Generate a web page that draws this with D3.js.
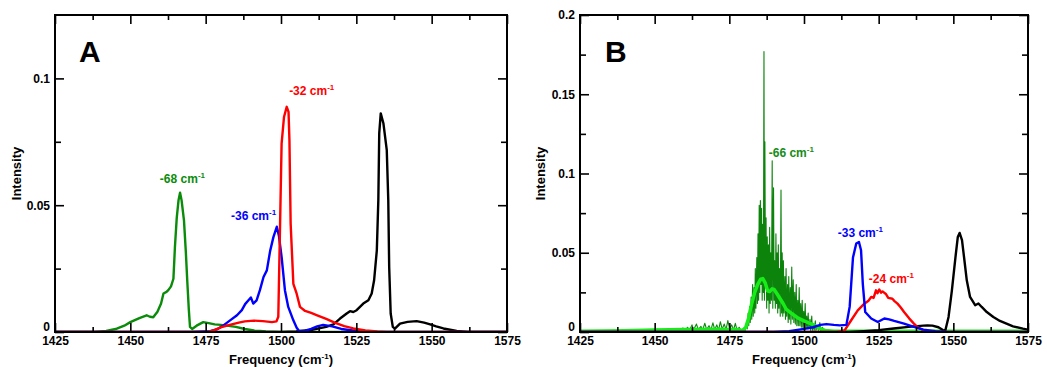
<!DOCTYPE html>
<html>
<head>
  <meta charset="utf-8">
  <title>Spectra</title>
  <style>
    body { margin: 0; background: #fff; }
    svg { display: block; font-family: "Liberation Sans", Arial, sans-serif; font-weight: bold; }
    .tick text { font-family: "Liberation Sans", Arial, sans-serif; font-size: 12px; font-weight: bold; fill: #000; }
    .tick line { stroke: #000; stroke-width: 1.6; }
    .domain { display: none; }
    .curve { fill: none; stroke-linejoin: round; }
  </style>
</head>
<body>
  <svg></svg>
  <script src="https://cdn.jsdelivr.net/npm/d3@7"></script>
  <script>
    // ---- axis ticks ----
    var freqTicks = [1425, 1450, 1475, 1500, 1525, 1550, 1575];
    var freqTickLabels = ["1425", "1450", "1475", "1500", "1525", "1550", "1575"];
    var freqMinor = [1437.5, 1462.5, 1487.5, 1512.5, 1537.5, 1562.5];
    var intTicksA = [0, 0.05, 0.1];
    var intTickLabelsA = ["0", "0.05", "0.1"];
    var intMinorA = [0.025, 0.075];
    var intTicksB = [0, 0.05, 0.1, 0.15, 0.2];
    var intTickLabelsB = ["0", "0.05", "0.1", "0.15", "0.2"];
    var intMinorB = [0.025, 0.075, 0.125, 0.175];

    // ---- panel A spectra [frequency, intensity] ----
    var greenA = [[1425, 0], [1438, 0], [1442, 0.0004], [1445.5, 0.0013], [1448, 0.0025], [1450, 0.0039], [1453, 0.0055],
      [1455.4, 0.0066], [1456.5, 0.006], [1457.6, 0.0058], [1459, 0.008], [1460.2, 0.0112], [1461, 0.0152], [1462, 0.0158],
      [1462.6, 0.0165], [1463.5, 0.018], [1464.3, 0.021], [1464.8, 0.0335], [1465.4, 0.045], [1466, 0.052], [1466.5, 0.0549],
      [1467, 0.052], [1467.8, 0.044], [1468.4, 0.032], [1468.9, 0.02], [1469.4, 0.009], [1469.8, 0.002], [1470.5, 0.0012],
      [1472, 0.0025], [1474.2, 0.0039], [1476, 0.0035], [1478, 0.003], [1480, 0.0028], [1482, 0.0025], [1485, 0.002],
      [1488, 0.0012], [1491, 0.0006], [1495, 0.0002], [1500, 0], [1575, 0]];
    var blueA = [[1425, 0], [1470, 0], [1476.5, 0.0003], [1478.7, 0.001], [1480.9, 0.0026], [1483.1, 0.0046],
      [1485.4, 0.0066], [1487, 0.0086], [1488.1, 0.011], [1489.2, 0.0125], [1490, 0.0136], [1490.8, 0.0112],
      [1491.9, 0.0125], [1493, 0.0165], [1494.2, 0.0217], [1495.3, 0.0243], [1496.4, 0.032], [1497.5, 0.0375],
      [1498.6, 0.0415], [1499.3, 0.038], [1500.2, 0.0296], [1501.3, 0.0165], [1502.4, 0.0099], [1504.1, 0.0046],
      [1505.2, 0.0017], [1506, 0.0004], [1508, 0.0005], [1510, 0.0012], [1512, 0.0022], [1514, 0.0028], [1517, 0.0022],
      [1520, 0.0012], [1525, 0.0004], [1530, 0], [1575, 0]];
    var redA = [[1425, 0], [1476, 0], [1478, 0.0008], [1480, 0.0018], [1483, 0.0028], [1486, 0.0037], [1488, 0.0042],
      [1491, 0.0045], [1494, 0.0043], [1497, 0.0039], [1498.5, 0.0042], [1499.1, 0.006], [1499.7, 0.0428],
      [1500.2, 0.0743], [1501, 0.0848], [1501.9, 0.0888], [1502.5, 0.0868], [1502.8, 0.0757], [1503.2, 0.0428],
      [1504.1, 0.019], [1505.2, 0.0151], [1506.3, 0.0099], [1508, 0.0083], [1510, 0.0075], [1512, 0.0066],
      [1515, 0.0052], [1518, 0.0036], [1521, 0.0023], [1524, 0.0014], [1528, 0.0006], [1532, 0.0002], [1535, 0], [1575, 0]];
    var blackA = [[1425, 0], [1500, 0], [1505, 0.0002], [1510, 0.0008], [1513, 0.0015], [1515, 0.002], [1517.4, 0.003],
      [1519.6, 0.0053], [1521.8, 0.0073], [1522.9, 0.0082], [1524, 0.0079], [1525.1, 0.0086], [1527.3, 0.0112],
      [1529, 0.0125], [1530.1, 0.0152], [1530.9, 0.0204], [1531.8, 0.0322], [1532.3, 0.052], [1532.6, 0.0783],
      [1533.1, 0.0862], [1534, 0.0822], [1535.1, 0.0717], [1535.6, 0.052], [1535.9, 0.0257], [1536.4, 0.0073],
      [1537.1, 0.002], [1537.8, 0.0013], [1539.5, 0.0033], [1542, 0.004], [1545, 0.0043], [1547.5, 0.0037],
      [1549.5, 0.003], [1551.5, 0.0022], [1553.9, 0.0014], [1558.3, 0.0004], [1562, 0], [1575, 0]];

    // ---- panel B spectra [frequency, intensity] ----
    var greenRawB = [[1425, 0], [1432, 0.0003], [1436, 0.0008], [1437, 0.0002], [1440, 0.001], [1441, 0.0003],
      [1445, 0.0015], [1446, 0.0004], [1448, 0.0012], [1449, 0.0003], [1451, 0.0018], [1452, 0.0005], [1454, 0.0014],
      [1455, 0.0004], [1457, 0.002], [1458, 0.0006], [1459.5, 0.0025], [1460.2, 0.0008], [1461, 0.003], [1461.6, 0.001],
      [1462.5, 0.0045], [1463, 0.0012], [1464, 0.005], [1464.6, 0.0015], [1465.5, 0.0035], [1466, 0.001], [1466.8, 0.0055],
      [1467.4, 0.0015], [1468.2, 0.004], [1468.8, 0.0012], [1469.5, 0.0058], [1470.1, 0.0015], [1470.8, 0.0045],
      [1471.4, 0.0012], [1472, 0.0065], [1472.6, 0.0018], [1473.3, 0.005], [1473.9, 0.0015], [1474.5, 0.0072],
      [1475.1, 0.002], [1475.8, 0.0045], [1476.4, 0.0012], [1477, 0.0055], [1477.6, 0.001], [1478.3, 0.003],
      [1479, 0.0005], [1479.8, 0.002], [1480.3, 0.001],
      [1480.8, 0.006], [1481.0, 0.002], [1481.3, 0.012], [1481.5, 0.004], [1481.8, 0.016], [1482.0, 0.006],
      [1482.3, 0.022], [1482.5, 0.008], [1482.8, 0.03], [1483.0, 0.01], [1483.3, 0.028], [1483.5, 0.012],
      [1483.7, 0.04], [1483.9, 0.015], [1484.2, 0.047], [1484.4, 0.018], [1484.6, 0.062], [1484.8, 0.02],
      [1485.0, 0.08], [1485.2, 0.025], [1485.4, 0.083], [1485.6, 0.03], [1485.8, 0.078], [1486.0, 0.02],
      [1486.2, 0.068], [1486.4, 0.025], [1486.6, 0.177], [1486.75, 0.02], [1486.9, 0.12], [1487.1, 0.03],
      [1487.3, 0.072], [1487.5, 0.015], [1487.7, 0.06], [1487.9, 0.02], [1488.1, 0.055], [1488.3, 0.012],
      [1488.5, 0.066], [1488.7, 0.018], [1488.9, 0.05], [1489.1, 0.02], [1489.35, 0.108], [1489.55, 0.015],
      [1489.8, 0.091], [1490.0, 0.02], [1490.2, 0.045], [1490.4, 0.015], [1490.6, 0.062], [1490.8, 0.018],
      [1491.0, 0.05], [1491.2, 0.012], [1491.4, 0.055], [1491.6, 0.015], [1491.85, 0.04], [1492.05, 0.01],
      [1492.3, 0.0895], [1492.5, 0.012], [1492.7, 0.05], [1492.9, 0.01], [1493.1, 0.045], [1493.3, 0.012],
      [1493.6, 0.035], [1493.8, 0.008], [1494.0, 0.04], [1494.2, 0.01], [1494.5, 0.03], [1494.7, 0.006],
      [1494.9, 0.035], [1495.1, 0.008], [1495.4, 0.028], [1495.6, 0.005], [1495.9, 0.041], [1496.1, 0.008],
      [1496.4, 0.033], [1496.6, 0.006], [1496.9, 0.025], [1497.1, 0.005], [1497.4, 0.03], [1497.6, 0.004],
      [1497.9, 0.02], [1498.1, 0.004], [1498.4, 0.028], [1498.6, 0.004], [1498.9, 0.018], [1499.1, 0.003],
      [1499.4, 0.02], [1499.6, 0.003], [1499.9, 0.013], [1500.1, 0.002], [1500.4, 0.018], [1500.6, 0.002],
      [1500.9, 0.01], [1501.1, 0.002], [1501.4, 0.012], [1501.6, 0.002], [1502.0, 0.008], [1502.2, 0.001],
      [1502.6, 0.01], [1502.8, 0.001], [1503.2, 0.005], [1503.4, 0.001], [1503.8, 0.007], [1504.0, 0.001],
      [1504.5, 0.004], [1504.8, 0.001], [1505.3, 0.006], [1505.6, 0.0005], [1506.2, 0.003], [1506.6, 0], [1575, 0]];
    var greenSmoothB = [[1425, 0.0004], [1440, 0.0008], [1450, 0.0012], [1460, 0.0015], [1470, 0.0018], [1478, 0.0015],
      [1479.5, 0.001], [1480.5, 0.003], [1481.5, 0.009], [1482.5, 0.018], [1483.5, 0.025], [1484.5, 0.03],
      [1485.5, 0.0333], [1486.2, 0.0337], [1487, 0.031], [1487.8, 0.026], [1488.5, 0.0255], [1489.3, 0.0272],
      [1490, 0.0268], [1491, 0.024], [1492, 0.021], [1493, 0.018], [1494, 0.0145], [1496, 0.0115], [1498, 0.0088],
      [1500, 0.007], [1502.6, 0.005], [1505, 0.0025], [1507, 0.001], [1510, 0.0005], [1575, 0.0005]];
    var blueB = [[1425, 0], [1490, 0], [1495, 0.0005], [1500, 0.002], [1503, 0.003], [1505.5, 0.0045], [1507.5, 0.005],
      [1510, 0.0045], [1512, 0.0042], [1514.2, 0.0045], [1515.3, 0.016], [1516.4, 0.047], [1517.5, 0.0558],
      [1518.4, 0.0568], [1519.1, 0.0516], [1519.7, 0.03], [1520.5, 0.0126], [1522.5, 0.0085], [1524.7, 0.0063],
      [1526.9, 0.0085], [1528.5, 0.008], [1530.2, 0.007], [1533.5, 0.0053], [1536.8, 0.0032], [1540, 0.0015],
      [1544, 0.0005], [1548, 0], [1575, 0]];
    var redB = [[1425, 0], [1511, 0], [1513.6, 0.001], [1515.8, 0.0074], [1518, 0.0137], [1520.2, 0.0179],
      [1521.5, 0.0195], [1522.5, 0.0221], [1523.3, 0.0215], [1524.1, 0.0263], [1524.6, 0.0245], [1525.2, 0.0268],
      [1525.8, 0.0248], [1526.3, 0.0256], [1527.4, 0.024], [1528.2, 0.0215], [1529.6, 0.021], [1530.3, 0.0195],
      [1531.3, 0.0179], [1532.4, 0.0155], [1533.5, 0.0126], [1535.2, 0.0086], [1536.8, 0.0053], [1537.9, 0.0032],
      [1540, 0.001], [1543, 0], [1575, 0]];
    var blackB = [[1425, 0], [1515, 0], [1520, 0.0005], [1525, 0.0012], [1530, 0.0022], [1535, 0.0032], [1540, 0.004],
      [1541.3, 0.0042], [1543, 0.004], [1545, 0.003], [1546.5, 0.0012], [1547.3, 0.0008], [1548.4, 0.0095],
      [1549.5, 0.026], [1550.7, 0.047], [1551.5, 0.06], [1552.1, 0.0625], [1552.9, 0.058], [1553.6, 0.047],
      [1554.5, 0.0326], [1555.6, 0.0221], [1557.3, 0.0169], [1558.4, 0.018], [1559.5, 0.0158], [1561.2, 0.0126],
      [1563.4, 0.0095], [1565.6, 0.007], [1567.8, 0.0053], [1570, 0.0036], [1573.3, 0.0021], [1575, 0.0015]];

    var svg = d3.select("svg").attr("width", 1047).attr("height", 367);
    svg.append("rect").attr("width", 1047).attr("height", 367).attr("fill", "#fff");

    function drawPanel(p) {
      var x = d3.scaleLinear().domain([1425, 1575]).range([0, p.w]);
      var y = d3.scaleLinear().domain([0, p.ymax]).range([p.h, 0]);
      var g = svg.append("g").attr("transform", "translate(" + p.left + "," + p.top + ")");

      g.append("clipPath").attr("id", p.id + "clip")
        .append("rect").attr("width", p.w).attr("height", p.h);

      var line = d3.line().x(function (d) { return x(d[0]) }).y(function (d) { return y(d[1]) });
      var plot = g.append("g").attr("clip-path", "url(#" + p.id + "clip)");
      p.series.forEach(function (s) {
        plot.append("path").attr("class", "curve").datum(s.data).attr("d", line)
          .attr("stroke", s.color).attr("stroke-width", s.width);
      });

      // ticks, all pointing in
      g.append("g").attr("transform", "translate(0," + p.h + ")")
        .call(d3.axisBottom(x).tickValues(freqTicks).tickSizeInner(-9).tickSizeOuter(0).tickPadding(4)
          .tickFormat(function (d, i) { return freqTickLabels[i] }));
      g.append("g").attr("transform", "translate(0," + p.h + ")")
        .call(d3.axisBottom(x).tickValues(freqMinor).tickSize(-5).tickFormat(""));
      g.append("g").call(d3.axisTop(x).tickValues(freqTicks).tickSize(-9).tickFormat(""));
      g.append("g").call(d3.axisTop(x).tickValues(freqMinor).tickSize(-5).tickFormat(""));
      var yl = g.append("g")
        .call(d3.axisLeft(y).tickValues(p.yTicks).tickSizeInner(-9).tickSizeOuter(0).tickPadding(5)
          .tickFormat(function (d, i) { return p.yLabels[i] }));
      // the "0" label sits just above the corner so it does not run into "1425"
      yl.selectAll(".tick text").filter(function (d) { return d === 0 }).attr("dy", "-0.1em");
      g.append("g").call(d3.axisLeft(y).tickValues(p.yMinor).tickSize(-6).tickFormat(""));
      g.append("g").attr("transform", "translate(" + p.w + ",0)")
        .call(d3.axisRight(y).tickValues(p.yTicks).tickSize(-9).tickFormat(""));
      g.append("g").attr("transform", "translate(" + p.w + ",0)")
        .call(d3.axisRight(y).tickValues(p.yMinor).tickSize(-6).tickFormat(""));

      g.append("rect").attr("width", p.w).attr("height", p.h)
        .attr("fill", "none").attr("stroke", "#000").attr("stroke-width", 2);

      // labels
      g.append("text").attr("x", p.letterX).attr("y", 47).attr("font-size", 30).text(p.letter);

      var xt = g.append("text").attr("x", p.w / 2).attr("y", 348.5).attr("text-anchor", "middle")
        .attr("font-size", 13);
      xt.append("tspan").text("Frequency (cm");
      xt.append("tspan").attr("font-size", 8).attr("dy", -5).text("-1");
      xt.append("tspan").attr("dy", 5).text(")");

      g.append("text").attr("transform", "translate(" + p.ylabX + "," + (p.h / 2) + ") rotate(-90)")
        .attr("text-anchor", "middle").attr("font-size", 13).text("Intensity");

      p.notes.forEach(function (n) {
        var t = g.append("text").attr("x", x(n.f)).attr("y", y(n.v)).attr("fill", n.color).attr("font-size", 12);
        t.append("tspan").text(n.text);
        t.append("tspan").attr("font-size", 8).attr("dy", -5).text("-1");
      });
    }

    drawPanel({
      id: "a", left: 55, top: 15, w: 452, h: 317, ymax: 0.125,
      yTicks: intTicksA, yLabels: intTickLabelsA, yMinor: intMinorA,
      letter: "A", letterX: 24, ylabX: -34.3,
      series: [
        { data: greenA, color: "#0a8c0a", width: 2.4 },
        { data: blackA, color: "#000", width: 2.4 },
        { data: blueA, color: "#0000ff", width: 2.4 },
        { data: redA, color: "#ff0000", width: 2.4 }
      ],
      notes: [
        { text: "-68 cm", color: "#0a8c0a", f: 1459.8, v: 0.0589 },
        { text: "-32 cm", color: "#ff0000", f: 1502.7, v: 0.0936 },
        { text: "-36 cm", color: "#0000ff", f: 1483.4, v: 0.0443 }
      ]
    });

    drawPanel({
      id: "b", left: 580, top: 15, w: 448, h: 317, ymax: 0.2,
      yTicks: intTicksB, yLabels: intTickLabelsB, yMinor: intMinorB,
      letter: "B", letterX: 25, ylabX: -34.7,
      series: [
        { data: greenRawB, color: "#0c840c", width: 1.1 },
        { data: greenSmoothB, color: "#18ec18", width: 3.5 },
        { data: blackB, color: "#000", width: 2.4 },
        { data: redB, color: "#ff0000", width: 2.4 },
        { data: blueB, color: "#0000ff", width: 2.4 }
      ],
      notes: [
        { text: "-66 cm", color: "#168c16", f: 1488.2, v: 0.1106 },
        { text: "-33 cm", color: "#0000ff", f: 1511.3, v: 0.0598 },
        { text: "-24 cm", color: "#ff0000", f: 1521.7, v: 0.0311 }
      ]
    });
  </script>
</body>
</html>
